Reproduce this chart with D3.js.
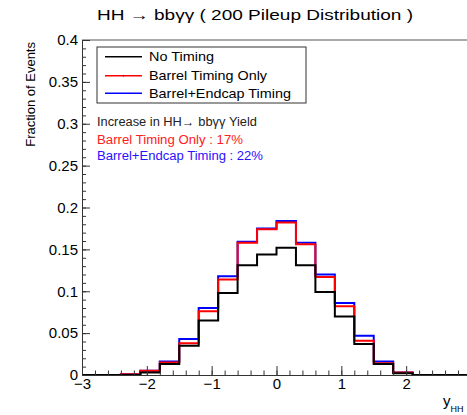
<!DOCTYPE html>
<html>
<head>
<meta charset="utf-8">
<script src="https://cdn.jsdelivr.net/npm/d3@7"></script>
<style>
  body { margin: 0; background: #fff; overflow: hidden; }
  text { font-family: "Liberation Sans", Arial, sans-serif; }
</style>
</head>
<body>
<div id="chart"></div>
<script>
"use strict";

// bin edges: 20 bins of width 0.3 from -3 to 3
const binEdges = d3.range(21).map(i => -3 + i * 0.3);

const noTiming = [0, 0, 0, 0.003, 0.013, 0.035, 0.065, 0.098, 0.131, 0.144,
                  0.152, 0.131, 0.099, 0.070, 0.037, 0.013, 0.002, 0, 0, 0];
const barrelOnly = [0, 0, 0.001, 0.005, 0.015, 0.038, 0.076, 0.114, 0.158, 0.174,
                    0.182, 0.156, 0.117, 0.082, 0.041, 0.014, 0.003, 0, 0, 0];
const barrelEndcap = [0, 0, 0.001, 0.005, 0.016, 0.043, 0.080, 0.118, 0.159, 0.175,
                      0.184, 0.158, 0.120, 0.086, 0.047, 0.016, 0.003, 0, 0, 0];

const xTicks = [-3, -2, -1, 0, 1, 2];
const yTicks = [0, 0.05, 0.1, 0.15, 0.2, 0.25, 0.3, 0.35, 0.4];

const seriesNames = ["No Timing", "Barrel Timing Only", "Barrel+Endcap Timing"];
const seriesColors = ["#000000", "#ff0000", "#0000ff"];

const size = {
    width: 467,
    height: 415,
    left: 82,
    right: 471,
    top: 40,
    bottom: 375
};

window.onload = function () {
    const svg = d3.select("#chart")
        .append("svg")
        .attr("width", size.width)
        .attr("height", size.height)
        .style("display", "block");

    svg.append("rect")
        .attr("width", size.width)
        .attr("height", size.height)
        .attr("fill", "#fff");

    const x = d3.scaleLinear().domain([-3, 3]).range([size.left, size.right]);
    const y = d3.scaleLinear().domain([0, 0.4]).range([size.bottom, size.top]);

    drawHistograms(svg, x, y);
    drawAxes(svg, x, y);
    drawLegend(svg);
    drawLabels(svg);
};

function stepPath(values, x, y) {
    let pts = [[x(binEdges[0]), y(0)]];
    values.forEach((v, i) => {
        pts.push([x(binEdges[i]), y(v)]);
        pts.push([x(binEdges[i + 1]), y(v)]);
    });
    pts.push([x(binEdges[binEdges.length - 1]), y(0)]);
    return d3.line()(pts);
}

function drawHistograms(svg, x, y) {
    // draw blue first, black on top
    const all = [barrelEndcap, barrelOnly, noTiming];
    const cols = [seriesColors[2], seriesColors[1], seriesColors[0]];
    all.forEach((vals, i) => {
        svg.append("path")
            .attr("d", stepPath(vals, x, y))
            .attr("fill", "none")
            .attr("stroke", cols[i])
            .attr("stroke-width", 2);
    });
}

function drawAxes(svg, x, y) {
    // top frame line (right side falls outside the picture)
    svg.append("line")
        .attr("x1", size.left).attr("x2", size.width)
        .attr("y1", size.top).attr("y2", size.top)
        .attr("stroke", "#555")
        .attr("stroke-width", 1.2);

    const fmt = d => String(+d.toFixed(2));

    const yAxis = d3.axisLeft(y)
        .tickValues(yTicks)
        .tickFormat(fmt)
        .tickSize(-8)
        .tickPadding(4);
    const gy = svg.append("g")
        .attr("transform", "translate(" + size.left + ",0)")
        .call(yAxis);
    gy.selectAll("text").style("font-size", "15px").attr("fill", "#000");

    const yMinor = d3.axisLeft(y)
        .tickValues(d3.range(41).map(i => i * 0.01))
        .tickFormat("")
        .tickSize(-4);
    svg.append("g")
        .attr("transform", "translate(" + size.left + ",0)")
        .call(yMinor)
        .select(".domain").remove();

    const xAxis = d3.axisBottom(x)
        .tickValues(xTicks)
        .tickFormat(d3.format("d"))
        .tickSize(-9)
        .tickPadding(3);
    const gx = svg.append("g")
        .attr("transform", "translate(0," + size.bottom + ")")
        .call(xAxis);
    gx.selectAll("text").style("font-size", "15px").attr("fill", "#000");

    const xMinor = d3.axisBottom(x)
        .tickValues(d3.range(31).map(i => -3 + i * 0.2))
        .tickFormat("")
        .tickSize(-4.5);
    svg.append("g")
        .attr("transform", "translate(0," + size.bottom + ")")
        .call(xMinor)
        .select(".domain").remove();

    svg.selectAll(".domain").attr("stroke", "#333");
    svg.selectAll(".tick line").attr("stroke", "#333");
}

function drawLegend(svg) {
    svg.append("rect")
        .attr("x", 97)
        .attr("y", 47)
        .attr("width", 209)
        .attr("height", 56)
        .attr("fill", "#fff")
        .attr("stroke", "#333")
        .attr("stroke-width", 1);

    const rows = [56.7, 75.7, 93.3];
    const widths = [65, 118, 142];
    seriesNames.forEach((name, i) => {
        svg.append("line")
            .attr("x1", 105).attr("x2", 142)
            .attr("y1", rows[i]).attr("y2", rows[i])
            .attr("stroke", seriesColors[i])
            .attr("stroke-width", 1.5);
        svg.append("text")
            .attr("x", 149)
            .attr("y", rows[i])
            .attr("dy", "0.35em")
            .attr("textLength", widths[i])
            .attr("lengthAdjust", "spacingAndGlyphs")
            .style("font-size", "13px")
            .text(name);
    });
    svg.append("circle")
        .attr("cx", 123.5).attr("cy", rows[1])
        .attr("r", 0.8).attr("fill", "#600");
}

function drawLabels(svg) {
    svg.append("text")
        .attr("x", 97)
        .attr("y", 15)
        .attr("dy", "0.35em")
        .attr("textLength", 316)
        .attr("lengthAdjust", "spacingAndGlyphs")
        .style("font-size", "15px")
        .text("HH \u2192 bb\u03b3\u03b3 ( 200 Pileup Distribution )");

    const notes = [
        ["Increase in HH\u2192 bb\u03b3\u03b3 Yield", "#222", 122, 160],
        ["Barrel Timing Only : 17%", "#ff2020", 139.3, 146],
        ["Barrel+Endcap Timing : 22%", "#2a10ff", 155.5, 166]
    ];
    notes.forEach(n => {
        svg.append("text")
            .attr("x", 97)
            .attr("y", n[2])
            .attr("dy", "0.35em")
            .attr("fill", n[1])
            .attr("textLength", n[3])
            .attr("lengthAdjust", "spacingAndGlyphs")
            .style("font-size", "12px")
            .text(n[0]);
    });

    svg.append("text")
        .attr("transform", "translate(35,42) rotate(-90)")
        .attr("text-anchor", "end")
        .style("font-size", "13px")
        .text("Fraction of Events");

    const xl = svg.append("text")
        .attr("x", 443)
        .attr("y", 406)
        .style("font-size", "15px");
    xl.append("tspan").text("y");
    xl.append("tspan")
        .attr("dy", 6)
        .style("font-size", "9px")
        .text("HH");
}
</script>
</body>
</html>
